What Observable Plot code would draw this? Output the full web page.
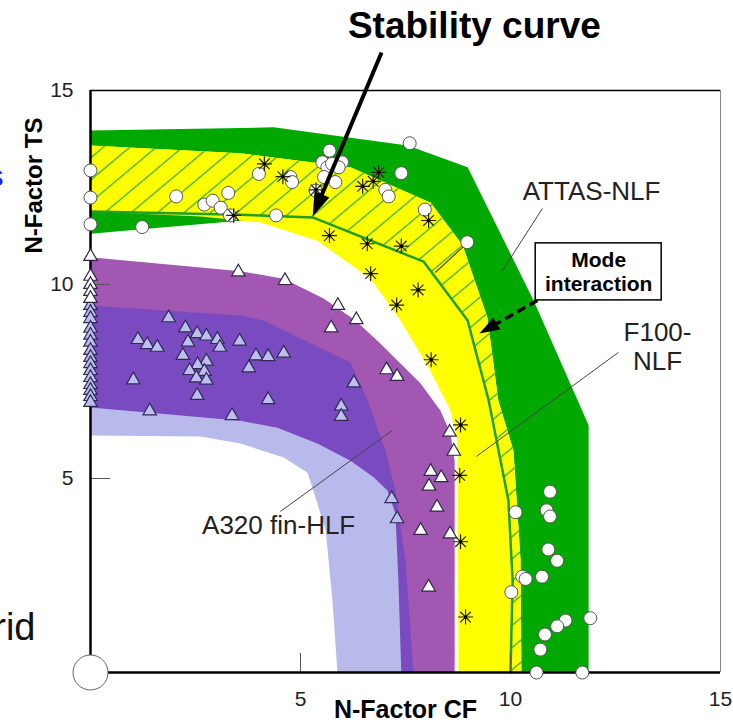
<!DOCTYPE html>
<html><head><meta charset="utf-8">
<script src="https://cdn.jsdelivr.net/npm/d3@7"></script>
<script src="https://cdn.jsdelivr.net/npm/@observablehq/plot@0.6"></script>
<style>
body{margin:0;background:#fff;}
#chart svg{display:block;}
</style>
</head><body><div id="chart"></div>
<script>
// ---------- data ----------
const xTicks = [5, 10, 15];
const yTicks = [5, 10, 15];

// ATTAS-NLF band (green)
const attasOuter = [[0,13.97],[4.36,14.05],[7.55,13.58],[8.98,13.02],[10.55,9.59],[11.86,6.37],[11.86,0]];
const attasInner = [[0,11.31],[3.81,11.67]];
// stability curve (F100-NLF)
const stabilityCurve = [[0,11.88],[3.57,11.80],[5.29,11.73],[7.93,10.59],[8.98,9.07],[9.48,7.01],[9.95,4.43],[10.05,2.37],[10.0,0]];
// F100-NLF band (yellow)
const f100Outer = [[0,13.58],[3.57,13.38],[6.19,13.02],[8.10,12.11],[8.86,11.01],[9.45,9.15],[9.71,7.01],[10.07,5.72],[10.24,2.89],[10.26,0]];
const f100Inner = [[0,11.88],[2.62,11.75],[4.05,11.60],[5.40,11.13],[6.67,10.15],[7.38,9.07],[8.05,7.86],[8.57,6.75],[8.74,5.98],[8.76,0]];
// A320 fin-HLF bands
const a320Outer = [[0,10.70],[3.57,10.34],[4.60,10.15],[5.55,9.64],[6.31,9.07],[6.90,8.48],[7.86,7.45],[8.33,6.75],[8.57,6.16],[8.67,5.46],[8.67,0]];
const a320Mid = [[0,9.46],[3.57,9.20],[4.12,9.07],[6.19,7.99],[6.60,7.01],[7.02,5.72],[7.26,4.69],[7.50,2.89],[7.69,0]];
const a320Inner = [[0,6.83],[3.57,6.49],[4.45,6.31],[5.40,5.90],[6.19,5.46],[6.74,5.03],[7.07,4.69],[7.26,4.10],[7.33,2.37],[7.40,0]];
const a320Core = [[0,6.11],[2.62,6.08],[3.57,5.90],[4.60,5.54],[5.17,5.15],[5.38,4.43],[5.60,3.66],[5.76,1.86],[5.88,0]];

// measured points
const attasPoints = [[0,12.94],[0,12.24],[0,11.55],
 [1.23,11.48],[2.04,12.27],[2.71,12.06],[2.91,12.16],[3.10,11.98],[3.28,12.36],[3.32,11.78],
 [4.01,12.85],[4.76,12.77],[4.80,12.64],[5.69,13.45],[5.52,13.15],[5.64,13.02],[5.75,13.11],[5.99,13.15],[5.91,13.02],[5.56,12.77],[5.83,12.64],[5.36,12.42],[4.42,11.78],
 [7.60,13.64],[7.40,12.87],[7.02,12.44],[7.10,12.27],[7.96,11.93],[8.97,11.09],
 [10.94,4.66],[10.86,4.18],[10.94,4.02],[10.12,4.13],[10.90,3.17],[11.11,2.88],[10.75,2.47],[10.28,2.47],[10.36,2.41],[10.02,2.07],[11.90,1.40],[11.31,1.34],[11.11,1.19],[10.82,0.98],[10.71,0.59],[10.62,0],[11.71,0]];
const f100Points = [[3.41,11.78],[4.14,13.11],[4.58,12.78],[5.37,12.44],[6.86,12.89],[6.73,12.66],[6.48,12.53],[8.05,11.65],[5.69,11.26],[6.59,11.05],[7.40,10.99],[6.67,10.28],[7.80,9.86],[7.29,9.47],[8.11,8.06],[8.81,6.38],[8.79,5.08],[8.81,3.37],[8.93,1.43]];
const a320WhitePoints = [[0,10.72],[0,10.21],[0,10.0],[0,9.82],[0,9.64],
 [3.52,10.32],[4.63,10.10],[5.89,9.46],[6.33,9.09],[5.73,8.88],[7.05,7.80],[7.30,7.63],[8.55,6.19],[8.65,5.70],[8.10,5.18],[8.35,5.02],[8.06,4.80],[8.25,4.26],[7.86,3.66],[8.56,3.57],[8.05,2.20]];
const a320LavPoints = [[0,9.46],[0,9.28],[0,9.12],[0,8.87],[0,8.69],[0,8.51],[0,8.30],[0,8.12],[0,7.96],[0,7.78],[0,7.60],[0,7.42],[0,7.27],[0,7.11],[0,6.96],
 [1.86,9.14],[2.26,8.88],[2.54,8.73],[2.76,8.67],[3.02,8.58],[3.55,8.54],[1.13,8.58],[1.35,8.45],[1.59,8.38],[2.32,8.51],[3.08,8.38],[2.20,8.17],[3.94,8.16],[4.23,8.14],[4.60,8.23],
 [2.76,8.02],[2.55,7.93],[2.36,7.78],[2.71,7.76],[3.77,7.85],[2.52,7.59],[2.76,7.53],[1.02,7.54],[2.54,7.14],[4.23,7.03],[1.41,6.74],[3.37,6.62],[6.27,7.46],[5.97,6.86],[5.97,6.60],[7.17,4.48],[7.30,3.96]];
const originMarker = [[0,0]];

// ---------- layout ----------
const W = 733, H = 724, mL = 90, mR = 13, mT = 90, mB = 52;
const kx = (W - mL - mR) / 15, ky = (H - mT - mB) / 15;
const FONT = "Liberation Sans, Arial, Helvetica, sans-serif";

// annotations (data coordinates)
const stabArrow = {x1: 6.93, y1: 15.98, x2: 5.29, y2: 11.75};
const modeArrow = {x1: 10.64, y1: 9.59, x2: 9.26, y2: 8.74};
const leaders = [
  {x1: 10.76, y1: 11.96, x2: 9.81, y2: 10.36},
  {x1: 12.57, y1: 8.25, x2: 9.19, y2: 5.57},
  {x1: 7.19, y1: 6.24, x2: 4.52, y2: 4.15}
];
const circleLeader = [{x1: 8.98, y1: 11.08, x2: 8.21, y2: 10.31}];

function arrowGeom(a, back) {
  const dx = (a.x2 - a.x1) * kx, dy = -(a.y2 - a.y1) * ky;
  const L = Math.hypot(dx, dy);
  const ux = dx / L, uy = dy / L;
  return {
    angle: Math.atan2(ux, -uy) * 180 / Math.PI,
    sx2: a.x2 - ux * back / kx,
    sy2: a.y2 + uy * back / ky
  };
}
const headSym = (len, half) => ({draw(ctx) { ctx.moveTo(0, 0); ctx.lineTo(-half, len); ctx.lineTo(half, len); ctx.closePath(); }});
const starSym = {draw(ctx, size) {
  const r = Math.sqrt(size / Math.PI);
  for (let i = 0; i < 4; i++) {
    const a = i * Math.PI / 4;
    ctx.moveTo(-r * Math.cos(a), -r * Math.sin(a));
    ctx.lineTo(r * Math.cos(a), r * Math.sin(a));
  }
}};

const ga = arrowGeom(stabArrow, 12);
const ma = arrowGeom(modeArrow, 10);

const greenPoly = attasOuter.concat(stabilityCurve.slice(2).reverse(), attasInner.slice().reverse());
const yellowPoly = f100Outer.concat(f100Inner.slice().reverse());
const hatchPoly = f100Outer.concat(stabilityCurve.slice().reverse());
const withOrigin = (b) => b.concat([[0, 0]]);
const P = {x: d => d[0], y: d => d[1]};

const chart = Plot.plot({
  width: W, height: H,
  marginLeft: mL, marginRight: mR, marginTop: mT, marginBottom: mB,
  x: {domain: [0, 15], axis: null},
  y: {domain: [0, 15], axis: null},
  style: {fontFamily: FONT, background: "white", color: "black"},
  marks: [
    Plot.line(greenPoly, {...P, curve: "linear-closed", fill: "#00a800", stroke: "none"}),
    Plot.line(yellowPoly, {...P, curve: "linear-closed", fill: "#ffff00", stroke: "none"}),
    Plot.line(hatchPoly, {...P, curve: "linear-closed", fill: "url(#hatch)", stroke: "none"}),
    Plot.line(withOrigin(a320Outer), {...P, curve: "linear-closed", fill: "#a257b3", stroke: "none"}),
    Plot.line(withOrigin(a320Mid), {...P, curve: "linear-closed", fill: "#7a4bc0", stroke: "none"}),
    Plot.line(withOrigin(a320Inner), {...P, curve: "linear-closed", fill: "#b9baec", stroke: "none"}),
    Plot.line(withOrigin(a320Core), {...P, curve: "linear-closed", fill: "white", stroke: "none"}),
    Plot.line(stabilityCurve, {...P, stroke: "#1f9e28", strokeWidth: 2.5}),
    // leader lines
    Plot.link(leaders, {x1: "x1", y1: "y1", x2: "x2", y2: "y2", stroke: "#444", strokeWidth: 1}),
    Plot.link(circleLeader, {x1: "x1", y1: "y1", x2: "x2", y2: "y2", stroke: "#6b3a1a", strokeWidth: 1.2}),
    // frame and inward ticks
    Plot.ruleY([15], {stroke: "black", strokeWidth: 1.5}),
    Plot.ruleX([15], {stroke: "#888", strokeWidth: 1}),
    Plot.ruleY(yTicks.filter(v => v < 15), {x1: 0, x2: 20 / kx, stroke: "#555", strokeWidth: 1}),
    Plot.ruleX(xTicks.filter(v => v < 15), {y1: 0, y2: 19 / ky, stroke: "#555", strokeWidth: 1}),
    Plot.ruleX([0], {stroke: "black", strokeWidth: 2.5}),
    Plot.ruleY([0], {stroke: "black", strokeWidth: 2.5}),
    // tick labels
    Plot.text(xTicks, {x: d => d, y: 0, dy: 27, text: d => String(d), fontSize: 21, fill: "#222", lineAnchor: "middle"}),
    Plot.text(yTicks, {x: 0, y: d => d, dx: -17, text: d => String(d), fontSize: 21, fill: "#222", textAnchor: "end", lineAnchor: "middle"}),
    // data points
    Plot.dot(attasPoints, {...P, r: 6.5, fill: "white", stroke: "#555", strokeWidth: 1}),
    Plot.dot(f100Points, {...P, symbol: starSym, r: 7.5, stroke: "#262410", strokeWidth: 1.2, fill: "none"}),
    Plot.dot(f100Points, {...P, r: 1.7, fill: "black", stroke: "none"}),
    Plot.dot(a320LavPoints, {...P, symbol: "triangle", r: 5, fill: "#bdbdf0", stroke: "#2e2a55", strokeWidth: 1.2}),
    Plot.dot(a320WhitePoints, {...P, symbol: "triangle", r: 5, fill: "white", stroke: "#2e2a45", strokeWidth: 1.2}),
    Plot.dot(originMarker, {...P, r: 17.5, fill: "white", stroke: "#666", strokeWidth: 1}),
    // arrows
    Plot.link([stabArrow], {x1: "x1", y1: "y1", x2: () => ga.sx2, y2: () => ga.sy2, stroke: "black", strokeWidth: 4}),
    Plot.dot([stabArrow], {x: "x2", y: "y2", symbol: headSym(24, 8), rotate: ga.angle, fill: "black", stroke: "none"}),
    Plot.link([modeArrow], {x1: "x1", y1: "y1", x2: () => ma.sx2, y2: () => ma.sy2, stroke: "black", strokeWidth: 3.5, strokeDasharray: "9,5"}),
    Plot.dot([modeArrow], {x: "x2", y: "y2", symbol: headSym(20, 7), rotate: ma.angle, fill: "black", stroke: "none"}),
    // Mode interaction box
    Plot.rect([{x1: 10.60, x2: 13.60, y1: 9.59, y2: 11.06}], {x1: "x1", x2: "x2", y1: "y1", y2: "y2", fill: "white", stroke: "black", strokeWidth: 1.5}),
    Plot.text(["Mode", "interaction"], {x: 12.10, y: (d, i) => i === 0 ? 10.62 : 10.0, text: d => d, fontSize: 21, fontWeight: "bold", lineAnchor: "middle"}),
    // labels
    Plot.text(["Stability curve"], {x: 9.14, y: 16.65, text: d => d, fontSize: 37, fontWeight: "bold", lineAnchor: "middle"}),
    Plot.text(["ATTAS-NLF"], {x: 11.93, y: 12.40, text: d => d, fontSize: 26, fill: "#222", lineAnchor: "middle"}),
    Plot.text(["F100-", "NLF"], {x: 13.5, y: (d, i) => i === 0 ? 8.76 : 8.02, text: d => d, fontSize: 26, fill: "#222", lineAnchor: "middle"}),
    Plot.text(["A320 fin-HLF"], {x: 4.48, y: 3.79, text: d => d, fontSize: 26, fill: "#222", lineAnchor: "middle"}),
    Plot.text(["N-Factor CF"], {x: 7.5, y: -0.966, text: d => d, fontSize: 25, fontWeight: "bold", lineAnchor: "middle"}),
    Plot.text(["N-Factor TS"], {x: -1.33, y: 12.55, text: d => d, fontSize: 24, fontWeight: "bold", rotate: -90, lineAnchor: "middle"}),
    Plot.text(["s"], {x: -2.07, y: 12.78, text: d => d, fontSize: 30, fill: "#1a1aff", textAnchor: "end", lineAnchor: "middle"}),
    Plot.text(["rid"], {x: -1.31, y: 1.16, text: d => d, fontSize: 38, fill: "#111", textAnchor: "end", lineAnchor: "middle"})
  ]
});

// hatch pattern used by the stability-to-boundary region
const defs = d3.select(chart).insert("defs", ":first-child");
const pat = defs.append("pattern").attr("id", "hatch").attr("patternUnits", "userSpaceOnUse")
  .attr("width", 17).attr("height", 17).attr("patternTransform", "rotate(50)");
pat.append("rect").attr("width", 17).attr("height", 17).attr("fill", "#ffff00");
pat.append("line").attr("x1", 8.5).attr("y1", -1).attr("x2", 8.5).attr("y2", 18).attr("stroke", "#3aa83a").attr("stroke-width", 1.3);

document.getElementById("chart").appendChild(chart);
</script></body></html>
